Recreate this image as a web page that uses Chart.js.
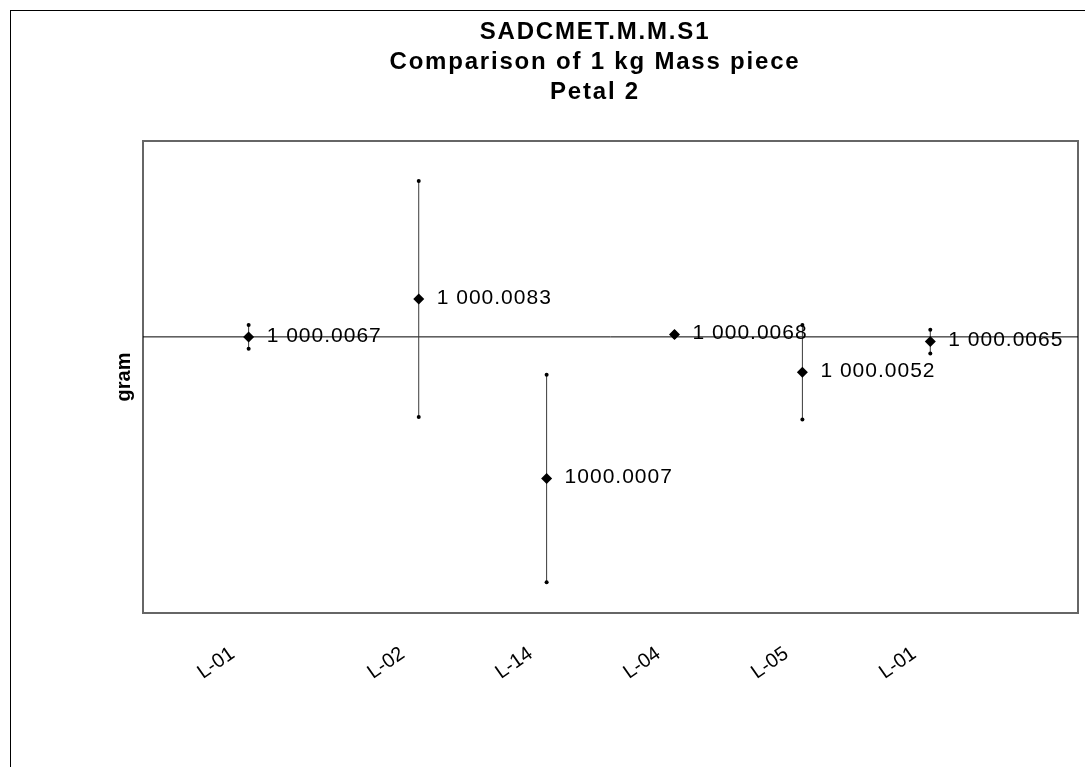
<!DOCTYPE html>
<html>
<head>
<meta charset="utf-8">
<title>SADCMET.M.M.S1 – Petal 2</title>
<script src="https://cdn.jsdelivr.net/npm/chart.js@4.4.1/dist/chart.umd.min.js"></script>
<style>
  html, body { margin: 0; padding: 0; background: #fff; overflow: hidden; }
  #wrap { position: relative; width: 1085px; height: 767px; }
  #frame { position: absolute; left: 10px; top: 10px; width: 1200px; height: 900px;
           border-top: 1px solid #000; border-left: 1px solid #000; pointer-events: none; }
  canvas { position: absolute; left: 0; top: 0; }
</style>
</head>
<body>
<div id="wrap">
  <canvas id="chart" width="1085" height="767"></canvas>
  <div id="frame"></div>
</div>
<script>
// Laboratories in the order they measured the travelling 1 kg standard
const labs = ['L-01', 'L-02', 'L-14', 'L-04', 'L-05', 'L-01'];
// Position of each measurement along the circulation axis
const runPosition = [0.67, 2, 3, 4, 5, 6];
// Reported mass values (g)
const massValues = [1000.0067, 1000.0083, 1000.0007, 1000.0068, 1000.0052, 1000.0065];
// Value labels as printed next to each point
const massLabels = ['1 000.0067', '1 000.0083', '1000.0007', '1 000.0068', '1 000.0052', '1 000.0065'];
// Expanded uncertainty of each result (g)
const uncertainty = [0.0005, 0.0050, 0.0044, 0.0001, 0.0020, 0.0005];
// Reference value (g)
const referenceValue = 1000.0067;

const xRange = [-0.156, 7.155];
const yRange = [999.995, 1000.015];

const datasets = [];

// measured values
datasets.push({
  label: 'mass',
  data: runPosition.map((x, i) => ({ x: x, y: massValues[i] })),
  showLine: false,
  pointStyle: 'rectRot',
  pointRadius: 5.5,
  pointBackgroundColor: '#000',
  pointBorderColor: '#000',
  pointBorderWidth: 0,
  order: 0
});

// uncertainty bars
runPosition.forEach((x, i) => {
  datasets.push({
    label: 'u' + i,
    data: [
      { x: x, y: massValues[i] - uncertainty[i] },
      { x: x, y: massValues[i] + uncertainty[i] }
    ],
    showLine: true,
    borderColor: '#3a3a3a',
    borderWidth: 1,
    pointStyle: 'circle',
    pointRadius: 2,
    pointBackgroundColor: '#000',
    pointBorderWidth: 0,
    order: 1
  });
});

// reference line
datasets.push({
  label: 'reference',
  data: [{ x: xRange[0], y: referenceValue }, { x: xRange[1], y: referenceValue }],
  showLine: true,
  borderColor: '#000',
  borderWidth: 1,
  pointRadius: 0,
  order: 2
});

// plot-area frame
const framePlugin = {
  id: 'frame',
  beforeDatasetsDraw(chart) {
    const a = chart.chartArea, ctx = chart.ctx;
    ctx.save();
    ctx.strokeStyle = '#666';
    ctx.lineWidth = 2;
    ctx.strokeRect(a.left, a.top, a.right - a.left, a.bottom - a.top);
    ctx.restore();
  }
};

// slightly wider tracking for the title block
const titleSpacingPlugin = {
  id: 'titleSpacing',
  afterLayout(chart) {
    const tb = chart.titleBlock;
    if (!tb || tb._spaced) return;
    const draw = tb.draw;
    tb.draw = function () {
      const ctx = chart.ctx;
      const has = 'letterSpacing' in ctx;
      if (has) ctx.letterSpacing = '1.8px';
      draw.apply(this, arguments);
      if (has) ctx.letterSpacing = '0px';
    };
    tb._spaced = true;
  }
};

// value labels beside each point
const valueLabelPlugin = {
  id: 'valueLabels',
  afterDatasetsDraw(chart) {
    const ctx = chart.ctx;
    const meta = chart.getDatasetMeta(0);
    ctx.save();
    ctx.font = '21px "Liberation Sans", Arial, sans-serif';
    ctx.fillStyle = '#000';
    ctx.textAlign = 'left';
    ctx.textBaseline = 'middle';
    if ('letterSpacing' in ctx) ctx.letterSpacing = '1px';
    meta.data.forEach((pt, i) => {
      ctx.fillText(massLabels[i], pt.x + 18, pt.y - 1);
    });
    if ('letterSpacing' in ctx) ctx.letterSpacing = '0px';
    ctx.restore();
  }
};

new Chart(document.getElementById('chart'), {
  type: 'scatter',
  data: { datasets: datasets },
  plugins: [framePlugin, titleSpacingPlugin, valueLabelPlugin],
  options: {
    responsive: false,
    animation: false,
    devicePixelRatio: 1,
    layout: { padding: { left: 112, right: 7, top: 0, bottom: 0 } },
    plugins: {
      legend: { display: false },
      tooltip: { enabled: false },
      title: {
        display: true,
        text: ['SADCMET.M.M.S1', 'Comparison of 1 kg Mass piece', 'Petal 2'],
        color: '#000',
        font: { family: '"Liberation Sans", Arial, sans-serif', size: 24, weight: 'bold', lineHeight: 1.25 },
        padding: { top: 17, bottom: 34 }
      }
    },
    scales: {
      x: {
        type: 'linear',
        min: xRange[0],
        max: xRange[1],
        grid: { display: false, drawTicks: false },
        border: { display: false },
        afterBuildTicks(axis) {
          axis.ticks = runPosition.map(v => ({ value: v }));
        },
        afterFit(axis) { axis.height = 154; },
        ticks: {
          autoSkip: false,
          minRotation: 35,
          maxRotation: 35,
          padding: 29,
          labelOffset: -16,
          color: '#000',
          font: { family: '"Liberation Sans", Arial, sans-serif', size: 20 },
          callback(value, index) { return labs[index]; }
        }
      },
      y: {
        type: 'linear',
        min: yRange[0],
        max: yRange[1],
        grid: { display: false, drawTicks: false },
        border: { display: false },
        ticks: { display: false },
        afterFit(axis) { axis.width = 31; },
        title: {
          display: true,
          text: 'gram',
          color: '#000',
          padding: { top: 0, bottom: 0 },
          font: { family: '"Liberation Sans", Arial, sans-serif', size: 20, weight: 'bold' }
        }
      }
    }
  }
});
</script>
</body>
</html>
